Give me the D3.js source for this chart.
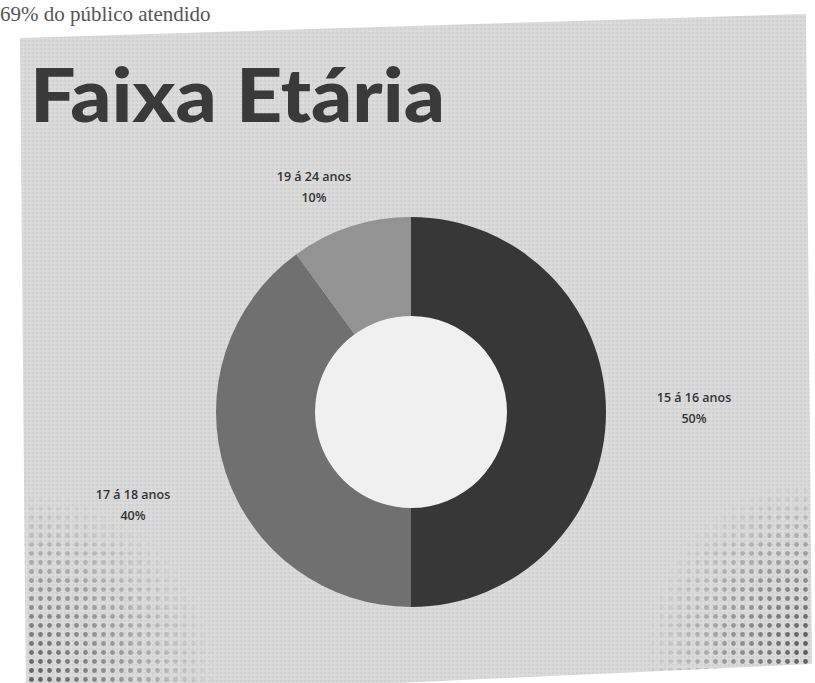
<!DOCTYPE html>
<html>
<head>
<meta charset="utf-8">
<script src="https://cdn.jsdelivr.net/npm/d3@7"></script>
<style>
  html, body { margin: 0; padding: 0; background: #fff; }
  svg { display: block; }
</style>
</head>
<body>
<div id="chart"></div>
<script>
// faixa etaria data
var categories = ['15 á 16 anos', '17 á 18 anos', '19 á 24 anos'];
var values = [50, 40, 10];
var sliceColors = ['#373737', '#707070', '#939393'];
var title = 'Faixa Etária';
var topLine = '69% do público atendido';

var width = 815, height = 683;
var cx = 411, cy = 412, rOuter = 195, rInner = 96;

var svg = d3.select('#chart').append('svg')
    .attr('width', width)
    .attr('height', height);

var defs = svg.append('defs');

// scanned halftone look
var pat = defs.append('pattern')
    .attr('id', 'dots')
    .attr('width', 4).attr('height', 4)
    .attr('patternUnits', 'userSpaceOnUse');
pat.append('rect').attr('width', 4).attr('height', 4).attr('fill', '#d9d9d9');
pat.append('circle').attr('cx', 1).attr('cy', 1).attr('r', 0.8).attr('fill', '#c8c8c8');
pat.append('circle').attr('cx', 3).attr('cy', 3).attr('r', 0.6).attr('fill', '#e6e6e6');

var big = defs.append('pattern')
    .attr('id', 'bigdots')
    .attr('width', 9).attr('height', 9)
    .attr('patternUnits', 'userSpaceOnUse');
big.append('circle').attr('cx', 4.5).attr('cy', 4.5).attr('r', 2.4).attr('fill', '#555');

function cornerGrad(id, x, y, r){
    var gr = defs.append('radialGradient').attr('id', id)
        .attr('gradientUnits', 'userSpaceOnUse')
        .attr('cx', x).attr('cy', y).attr('r', r);
    gr.append('stop').attr('offset', '0%').attr('stop-color', '#fff').attr('stop-opacity', 1);
    gr.append('stop').attr('offset', '100%').attr('stop-color', '#fff').attr('stop-opacity', 0);
    var m = defs.append('mask').attr('id', id + 'm');
    m.append('rect').attr('width', width).attr('height', height).attr('fill', 'url(#' + id + ')');
}
cornerGrad('cl', 20, 690, 200);
cornerGrad('cr', 815, 650, 170);

// text line of the page above the slide
svg.append('text')
    .attr('x', 0).attr('y', 21)
    .attr('font-family', 'Liberation Serif, serif')
    .attr('font-size', 21)
    .attr('fill', '#555')
    .text(topLine);

// the slide, slightly tilted
var slide = [[20, 38], [806, 14], [812, 664], [26, 700]];
var pts = slide.map(function(p){ return p.join(','); }).join(' ');
svg.append('polygon').attr('points', pts).attr('fill', 'url(#dots)');
svg.append('polygon').attr('points', pts).attr('fill', 'url(#bigdots)').attr('mask', 'url(#clm)');
svg.append('polygon').attr('points', pts).attr('fill', 'url(#bigdots)').attr('mask', 'url(#crm)');

svg.append('text')
    .attr('x', 30).attr('y', 122)
    .attr('font-family', 'Lato, sans-serif')
    .attr('font-weight', 900)
    .attr('font-size', 74)
    .attr('textLength', 415)
    .attr('lengthAdjust', 'spacingAndGlyphs')
    .attr('fill', '#3a3a3a')
    .text(title);

var pie = d3.pie().sort(null).value(function(d){ return d; });
var arc = d3.arc().innerRadius(rInner).outerRadius(rOuter);
var arcs = pie(values);

var g = svg.append('g').attr('transform', 'translate(' + cx + ',' + cy + ')');

g.append('circle').attr('r', rInner).attr('fill', '#f0f0f0');

g.selectAll('path.slice')
    .data(arcs).enter()
    .append('path')
    .attr('class', 'slice')
    .attr('d', arc)
    .attr('fill', function(d, i){ return sliceColors[i]; });

// label spots (outside the ring)
var labelPos = [[283, -10], [-278, 87], [-97, -231]];

var lab = g.selectAll('g.lab')
    .data(arcs).enter()
    .append('g')
    .attr('class', 'lab')
    .attr('transform', function(d, i){ return 'translate(' + labelPos[i][0] + ',' + labelPos[i][1] + ')'; })
    .attr('font-family', 'Open Sans, sans-serif')
    .attr('font-weight', 600)
    .attr('font-size', 12.5)
    .attr('fill', '#333')
    .attr('text-anchor', 'middle');

lab.append('text').attr('y', 0).text(function(d, i){ return categories[i]; });
lab.append('text').attr('y', 21).text(function(d){ return d.data + '%'; });
</script>
</body>
</html>
